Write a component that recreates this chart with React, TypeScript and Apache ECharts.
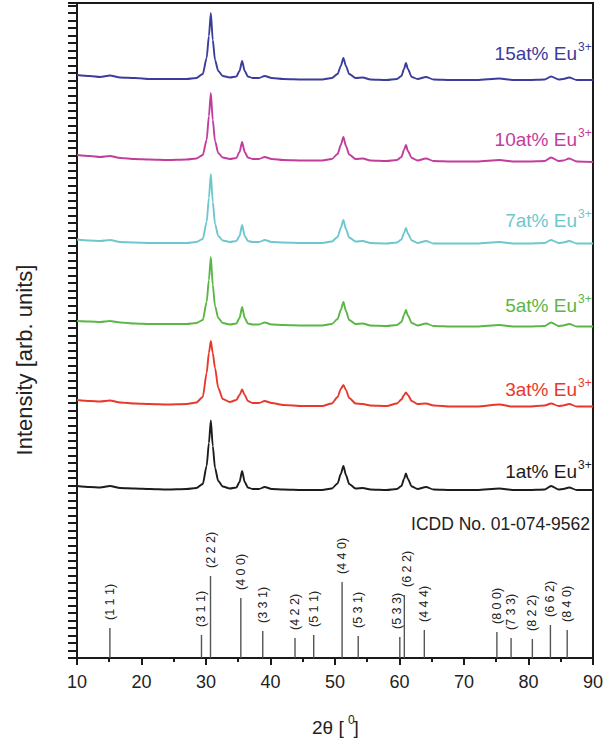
import React, { useEffect, useRef } from "react";
import * as echarts from "echarts";

const FONT = '"Liberation Sans", Arial, Helvetica, sans-serif';

// 2θ positions (degrees) at which intensities were read
const TWO_THETA = [10, 12, 13.6, 15.1, 16.7, 19, 21.3, 24, 27, 28.5, 29.5, 30.1, 30.45, 30.75, 31.05, 31.4, 31.9, 32.6, 33.7, 34.7, 35.2, 35.6, 36.0, 36.5, 37.2, 38.2, 39.1, 40.2, 42, 45, 48, 49.5, 50.4, 50.9, 51.3, 51.7, 52.2, 53.2, 54.3, 55.5, 58, 59.6, 60.3, 60.7, 61.0, 61.3, 61.9, 62.8, 64.1, 65.3, 68, 72, 75.5, 77.5, 80, 82.5, 83.5, 84.7, 85.4, 86.3, 87.5, 90];

// Stacked intensities (arb. units, offset per sample)
const I_15AT = [583, 582, 581, 582.5, 580.5, 580, 579, 579, 579, 580, 584, 600, 622, 645, 618, 598, 587, 582, 580.5, 581.5, 587, 597, 587, 581.5, 580, 580, 582, 580, 579, 578.5, 578.5, 580, 584, 592, 600, 592, 584, 580, 580.5, 578.5, 578, 579, 582, 589, 595, 589, 581, 579, 581, 578.5, 578, 578, 579.5, 578, 578, 578.5, 581.5, 578.5, 579, 580.5, 578, 578];
const I_10AT = [503, 502, 501, 502, 500, 499, 498.5, 498, 498.5, 499.5, 503, 518, 542, 565, 538, 517, 505, 500.5, 499, 500, 506, 516, 506, 500.5, 499, 499, 501, 499, 498, 497.5, 497.5, 499, 504, 513, 521, 512, 503.5, 499, 499.5, 497.5, 497, 498, 501, 508, 513, 507, 500, 497.5, 499.5, 497, 496.5, 496.5, 498, 496.5, 496.5, 497, 500.5, 497, 497.5, 499.5, 496.5, 496];
const I_7AT = [418.5, 417.5, 417, 418, 416, 415.5, 415, 415, 415, 416, 419, 436, 460, 484, 456, 434, 422, 417.5, 416, 417, 422, 433, 422, 417, 416, 416, 418, 416, 415.5, 415, 415, 416.5, 421, 430, 438, 429, 420.5, 416.5, 417, 415, 414.5, 415.5, 418.5, 425, 430, 424.5, 417.5, 415, 417, 414.5, 414.5, 414.5, 416, 414.5, 414.5, 415, 418, 415, 415.5, 417, 414.5, 414.5];
const I_5AT = [337, 336.5, 336, 337, 335.5, 334.5, 334, 334, 334, 335, 338, 356, 378, 401, 373, 352, 340, 335, 333.5, 334.5, 340, 351, 340, 334.5, 333.5, 333.5, 335.5, 333.5, 333, 332.5, 332.5, 334, 339, 348, 356, 347, 338, 334, 334.5, 332.5, 332, 333, 336, 343, 348, 342.5, 335, 332.5, 334.5, 332, 331.5, 331.5, 333, 331.5, 331.5, 332, 335.5, 332, 332.5, 334, 331.5, 331.5];
const I_3AT = [258, 257, 256.5, 257.5, 255.5, 254.5, 254, 253.5, 254, 255.5, 261, 285, 305, 317, 305, 290, 270, 259, 256, 258, 263, 268.5, 263, 257, 255, 255, 257, 255, 253, 252, 252, 254.5, 261, 269, 273, 268, 260, 254.5, 254, 252.5, 252, 254.5, 258.5, 263, 265.5, 263, 257, 254, 254.5, 252.5, 251.5, 251.5, 253.5, 251.5, 251.5, 252.5, 254.5, 252, 252.5, 254, 251.5, 251.5];
const I_1AT = [172, 171, 170.5, 172, 170, 169.5, 169, 168.5, 169, 170, 174, 192, 215, 237.5, 212, 190, 177, 171.5, 169.5, 170.5, 176, 187, 176, 170.5, 169, 169, 171, 169, 168.5, 168, 168, 169.5, 174.5, 184, 192, 183, 174, 169.5, 170, 168.5, 168, 169, 172, 179, 184.5, 179, 171.5, 169, 171, 168.5, 168, 168, 169.5, 168, 168, 168.5, 172, 168.5, 169, 170.5, 168, 168];

// ICDD No. 01-074-9562 reference reflections
const ICDD_HKL = ["(1 1 1)", "(3 1 1)", "(2 2 2)", "(4 0 0)", "(3 3 1)", "(4 2 2)", "(5 1 1)", "(4 4 0)", "(5 3 1)", "(5 3 3)", "(6 2 2)", "(4 4 4)", "(8 0 0)", "(7 3 3)", "(8 2 2)", "(6 6 2)", "(8 4 0)"];
const ICDD_POS = [15.1, 29.3, 30.7, 35.4, 38.8, 43.8, 46.7, 51.1, 53.6, 60.05, 60.75, 63.85, 75.1, 77.3, 80.6, 83.4, 86.0];
const ICDD_INT = [30, 23, 82, 60, 27, 20, 23, 76, 22, 21, 63, 28, 26, 20, 19, 33, 28];

const SAMPLE_NAMES = ["15at% Eu", "10at% Eu", "7at% Eu", "5at% Eu", "3at% Eu", "1at% Eu"];
const SAMPLE_DATA = [I_15AT, I_10AT, I_7AT, I_5AT, I_3AT, I_1AT];
const SAMPLE_COLORS = ["#3b3c9b", "#c23c9c", "#6fc7ce", "#5cb646", "#e8382c", "#1c1c1c"];
// label layout: [right x, baseline y] in pixels
const LABEL_POS = [[577, 60], [577, 146.7], [577, 227.3], [577, 312.3], [577, 396.7], [577, 478.3]];
const LABEL_DX: Record<string, number> = { "(5 3 3)": -3, "(6 2 2)": 3 };

export default function App() {
  const ref = useRef<HTMLDivElement>(null);
  useEffect(() => {
    if (!ref.current) return;
    const chart = echarts.init(ref.current, undefined, { renderer: "svg" });
    const axisColor = "#1a1a1a";

    const sampleSeries = SAMPLE_DATA.map((vals, k) => ({
      type: "line",
      name: SAMPLE_NAMES[k],
      data: TWO_THETA.map((t, i) => [t, vals[i]]),
      showSymbol: false,
      symbol: "none",
      smooth: 0.25,
      smoothMonotone: "x",
      lineStyle: { color: SAMPLE_COLORS[k], width: 1.9 },
      z: 3,
    }));

    const icddSeries = {
      type: "custom",
      name: "ICDD",
      data: ICDD_POS.map((p, i) => [p, ICDD_INT[i]]),
      renderItem: (params: any, api: any) => {
        const x = api.value(0);
        const h = api.value(1);
        const p0 = api.coord([x, 0]);
        const p1 = api.coord([x, h]);
        const label = ICDD_HKL[params.dataIndex];
        const dx = LABEL_DX[label] || 0;
        return {
          type: "group",
          children: [
            {
              type: "line",
              shape: { x1: p0[0], y1: p0[1], x2: p1[0], y2: p1[1] },
              style: { stroke: "#555", lineWidth: 1.4 },
            },
            {
              type: "text",
              x: p1[0] + dx,
              y: p1[1] - 8,
              rotation: Math.PI / 2,
              style: {
                text: label,
                x: 0,
                y: 0,
                fill: "#222",
                font: `12.5px ${FONT}`,
                textAlign: "left",
                textVerticalAlign: "middle",
              },
            },
          ],
        };
      },
      z: 2,
    };

    const graphics: any[] = [];
    SAMPLE_NAMES.forEach((name, k) => {
      const [rx, by] = LABEL_POS[k];
      graphics.push({
        type: "text",
        x: rx,
        y: by - 6.8,
        style: {
          text: name,
          fill: SAMPLE_COLORS[k],
          font: `19px ${FONT}`,
          textAlign: "right",
          textVerticalAlign: "middle",
        },
        z: 10,
      });
      graphics.push({
        type: "text",
        x: rx + 1,
        y: by - 13.5,
        style: {
          text: "3+",
          fill: SAMPLE_COLORS[k],
          font: `12px ${FONT}`,
          textAlign: "left",
          textVerticalAlign: "middle",
        },
        z: 10,
      });
    });
    graphics.push({
      type: "text",
      x: 590,
      y: 524,
      style: {
        text: "ICDD No. 01-074-9562",
        fill: "#222",
        font: `17.5px ${FONT}`,
        textAlign: "right",
        textVerticalAlign: "middle",
      },
      z: 10,
    });
    graphics.push({
      type: "text",
      x: 24.6,
      y: 360,
      rotation: Math.PI / 2,
      style: {
        text: "Intensity [arb. units]",
        fill: "#222",
        font: `22px ${FONT}`,
        textAlign: "center",
        textVerticalAlign: "middle",
      },
      z: 10,
    });
    graphics.push({
      type: "text",
      x: 312,
      y: 727,
      style: { text: "2θ [", fill: "#222", font: `19px ${FONT}`, textAlign: "left", textVerticalAlign: "middle" },
      z: 10,
    });
    graphics.push({
      type: "text",
      x: 348,
      y: 720,
      style: { text: "0", fill: "#222", font: `12px ${FONT}`, textAlign: "left", textVerticalAlign: "middle" },
      z: 10,
    });
    graphics.push({
      type: "text",
      x: 353.5,
      y: 727,
      style: { text: "]", fill: "#222", font: `19px ${FONT}`, textAlign: "left", textVerticalAlign: "middle" },
      z: 10,
    });

    chart.setOption({
      animation: false,
      backgroundColor: "#ffffff",
      grid: {
        left: 77,
        right: 12,
        top: 3,
        bottom: 86,
        show: true,
        borderColor: axisColor,
        borderWidth: 2,
        backgroundColor: "transparent",
      },
      xAxis: {
        type: "value",
        min: 10,
        max: 90,
        interval: 10,
        axisLine: { show: true, lineStyle: { color: axisColor, width: 2 } },
        axisTick: { show: true, inside: false, length: 7, lineStyle: { color: axisColor, width: 2 } },
        minorTick: { show: true, splitNumber: 2, length: 4, lineStyle: { color: axisColor, width: 2 } },
        axisLabel: { color: "#222", fontSize: 18, fontFamily: FONT, margin: 15 },
        splitLine: { show: false },
      },
      yAxis: {
        type: "value",
        min: 0,
        max: 655,
        interval: 7.5,
        axisLine: { show: true, lineStyle: { color: axisColor, width: 2 } },
        axisTick: { show: true, inside: false, length: 9, lineStyle: { color: axisColor, width: 2 } },
        axisLabel: { show: false },
        splitLine: { show: false },
      },
      graphic: graphics,
      series: [...sampleSeries, icddSeries],
    });
    return () => chart.dispose();
  }, []);
  return (
    <div
      ref={ref}
      style={{ position: "absolute", left: 0, top: 0, width: 606, height: 744 }}
    />
  );
}
